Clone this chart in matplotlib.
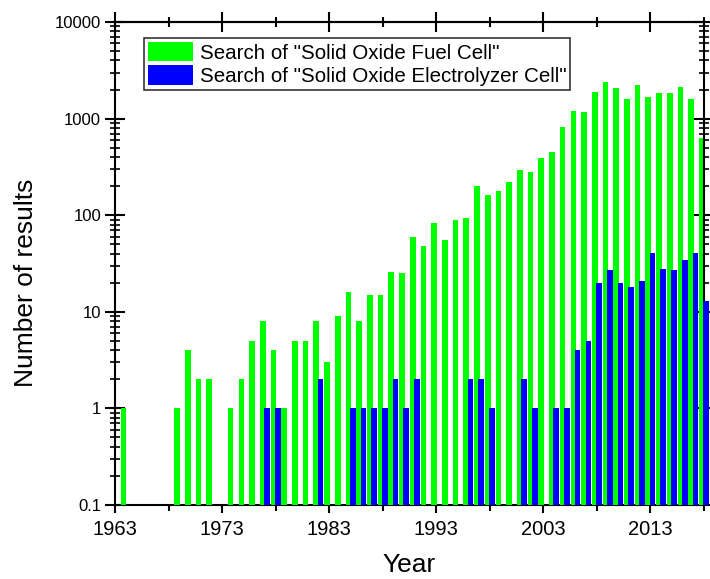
import numpy as np
import matplotlib
matplotlib.use("Agg")
import matplotlib.pyplot as plt
from matplotlib.ticker import FixedLocator, LogLocator, NullFormatter, FuncFormatter

plt.rcParams["font.family"] = ["Liberation Sans", "DejaVu Sans"]

# yearly hit counts, 1964-2018
years = np.arange(1964, 2019)
sofc = [1, 0, 0, 0, 0, 1, 4, 2, 2, 0,
        1, 2, 5, 8, 4, 1, 5, 5, 8, 3,
        9, 16, 8, 15, 15, 26, 25, 59, 48, 84,
        55, 90, 94, 202, 160, 177, 219, 296, 278, 391,
        450, 817, 1187, 1178, 1866, 2367, 2051, 1591, 2254, 1656,
        1836, 1836, 2103, 1606, 629]
soec = [0, 0, 0, 0, 0, 0, 0, 0, 0, 0,
        0, 0, 0, 1, 1, 0, 0, 0, 2, 0,
        0, 1, 1, 1, 1, 2, 1, 2, 0, 0,
        0, 0, 2, 2, 1, 0, 0, 2, 1, 0,
        1, 1, 4, 5, 20, 27, 20, 18, 21, 41,
        28, 27, 34, 41, 13]

labels = ['Search of "Solid Oxide Fuel Cell"',
          'Search of "Solid Oxide Electrolyzer Cell"']

ymin, ymax = 0.1, 10000

sofc = np.array(sofc, dtype=float)
soec = np.array(soec, dtype=float)
m1 = sofc > 0
m2 = soec > 0

fig = plt.figure(figsize=(7.10, 5.79), dpi=100)
ax = fig.add_axes([115 / 710, 1 - 505 / 579, 589 / 710, 483 / 579])

# bars start at the bottom of the log axis
w = 0.53
ax.bar(years[m1] - 0.2, sofc[m1] - ymin, bottom=ymin, width=w,
       color="#00ff00", zorder=2, label=labels[0])
b2 = ax.bar(years[m2] + 0.2, soec[m2] - ymin, bottom=ymin, width=w,
            color="#0000ff", zorder=3, label=labels[1])
# last blue bar hangs past the right edge
for p in b2:
    p.set_clip_on(False)

ax.set_yscale("log")
ax.set_ylim(ymin, ymax)
ax.set_xlim(1963, 2018)

ax.xaxis.set_major_locator(FixedLocator(np.arange(1963, 2019, 10)))
ax.xaxis.set_minor_locator(FixedLocator(np.arange(1968, 2019, 10)))
ax.yaxis.set_major_locator(LogLocator(base=10, numticks=10))
ax.yaxis.set_minor_locator(LogLocator(base=10, subs=np.arange(2, 10), numticks=20))
ax.yaxis.set_minor_formatter(NullFormatter())
ax.yaxis.set_major_formatter(FuncFormatter(lambda v, p: f"{v:g}"))

for s in ax.spines.values():
    s.set_linewidth(1.5)
ax.spines["bottom"].set_zorder(1)

ax.tick_params(axis="x", which="major", direction="out", length=6, width=1.5,
               labelsize=14.5, pad=5, top=False)
ax.tick_params(axis="x", which="minor", direction="out", length=4, width=1.5,
               top=False)
ax.tick_params(axis="y", which="major", direction="inout", length=14, width=1.5,
               labelsize=12, pad=3, right=True)
ax.tick_params(axis="y", which="minor", direction="inout", length=7, width=1.2,
               right=True)

top = ax.secondary_xaxis("top")
top.xaxis.set_major_locator(FixedLocator(np.arange(1963, 2019, 10)))
top.xaxis.set_minor_locator(FixedLocator(np.arange(1968, 2019, 10)))
top.tick_params(which="major", direction="inout", length=14, width=1.5,
                labeltop=False)
top.tick_params(which="minor", direction="inout", length=7, width=1.5)
top.spines["top"].set_linewidth(1.5)

ax.set_xlabel("Year", fontsize=19, labelpad=10)
ax.set_ylabel("Number of results", fontsize=19, labelpad=8)
ax.yaxis.set_label_coords(-0.13, 0.46)

leg = ax.legend(loc="upper left", bbox_to_anchor=(0.05, 0.966), fontsize=14.8,
                frameon=True, fancybox=False, edgecolor="black",
                handlelength=2.2, handleheight=1.07, handletextpad=0.32,
                labelspacing=0.12, borderpad=0.18, borderaxespad=0)
leg.get_frame().set_linewidth(1.2)

fig.savefig("out.png", dpi=100)
